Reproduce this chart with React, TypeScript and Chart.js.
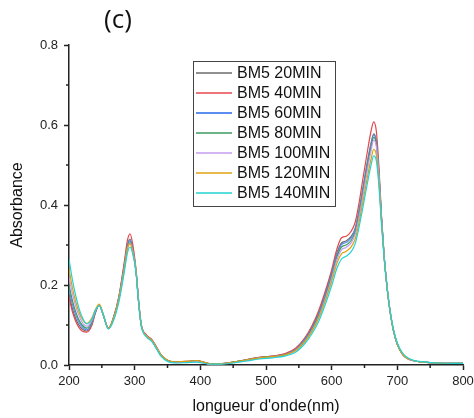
import React, { useEffect, useRef } from 'react';
import { Chart, registerables } from 'chart.js';

Chart.register(...registerables);

const wavelengths = [
  200, 205, 210, 215, 220, 227, 235, 240, 246, 252,
  260, 268, 276, 284, 289, 293, 297, 302, 306, 310,
  318, 326, 334, 340, 350, 365, 380, 395, 403, 415,
  430, 450, 470, 490, 510, 530, 545, 560, 570, 580,
  590, 600, 608, 615, 622, 630, 636, 642, 648, 654,
  660, 664, 668, 672, 676, 680, 684, 688, 694, 700,
  708, 716, 726, 740, 760, 800,
];

const bm5_20min = [
  0.178, 0.142, 0.117, 0.1, 0.09, 0.085, 0.103, 0.13, 0.15, 0.126,
  0.092, 0.12, 0.17, 0.25, 0.3, 0.315, 0.29, 0.235, 0.158, 0.1,
  0.074, 0.063, 0.042, 0.025, 0.012, 0.008, 0.009, 0.011, 0.008, 0.003,
  0.003, 0.007, 0.013, 0.019, 0.022, 0.028, 0.04, 0.068, 0.095, 0.13,
  0.178, 0.232, 0.28, 0.305, 0.31, 0.322, 0.343, 0.39, 0.447, 0.505,
  0.555, 0.578, 0.56, 0.48, 0.365, 0.27, 0.2, 0.145, 0.087, 0.052,
  0.027, 0.016, 0.01, 0.007, 0.005, 0.004,
];

const bm5_40min = [
  0.17, 0.134, 0.11, 0.094, 0.085, 0.082, 0.1, 0.13, 0.15, 0.125,
  0.092, 0.12, 0.172, 0.255, 0.312, 0.328, 0.302, 0.24, 0.162, 0.102,
  0.075, 0.064, 0.043, 0.026, 0.012, 0.008, 0.009, 0.011, 0.008, 0.003,
  0.003, 0.007, 0.013, 0.019, 0.022, 0.029, 0.042, 0.07, 0.098, 0.135,
  0.183, 0.238, 0.29, 0.318, 0.322, 0.335, 0.358, 0.408, 0.47, 0.53,
  0.585, 0.608, 0.585, 0.495, 0.37, 0.272, 0.2, 0.145, 0.086, 0.051,
  0.026, 0.015, 0.01, 0.007, 0.005, 0.004,
];

const bm5_60min = [
  0.19, 0.153, 0.126, 0.107, 0.095, 0.088, 0.105, 0.132, 0.15, 0.126,
  0.091, 0.118, 0.168, 0.245, 0.298, 0.312, 0.29, 0.235, 0.158, 0.1,
  0.073, 0.062, 0.041, 0.025, 0.011, 0.007, 0.008, 0.01, 0.007, 0.003,
  0.003, 0.007, 0.012, 0.018, 0.021, 0.027, 0.039, 0.066, 0.092, 0.127,
  0.174, 0.228, 0.276, 0.301, 0.306, 0.318, 0.34, 0.386, 0.443, 0.5,
  0.551, 0.575, 0.557, 0.478, 0.364, 0.27, 0.2, 0.145, 0.087, 0.052,
  0.027, 0.016, 0.01, 0.007, 0.005, 0.004,
];

const bm5_80min = [
  0.2, 0.163, 0.134, 0.113, 0.1, 0.092, 0.108, 0.133, 0.15, 0.126,
  0.091, 0.117, 0.166, 0.243, 0.295, 0.308, 0.287, 0.235, 0.158, 0.1,
  0.072, 0.061, 0.04, 0.024, 0.011, 0.007, 0.008, 0.01, 0.007, 0.003,
  0.003, 0.007, 0.012, 0.018, 0.021, 0.026, 0.037, 0.063, 0.089, 0.123,
  0.169, 0.222, 0.27, 0.295, 0.3, 0.312, 0.334, 0.38, 0.436, 0.493,
  0.545, 0.569, 0.552, 0.474, 0.362, 0.269, 0.2, 0.145, 0.087, 0.052,
  0.027, 0.016, 0.01, 0.007, 0.005, 0.004,
];

const bm5_100min = [
  0.22, 0.18, 0.148, 0.124, 0.107, 0.097, 0.112, 0.135, 0.149, 0.126,
  0.091, 0.116, 0.165, 0.24, 0.292, 0.305, 0.285, 0.235, 0.158, 0.1,
  0.072, 0.061, 0.04, 0.024, 0.01, 0.006, 0.007, 0.009, 0.006, 0.002,
  0.003, 0.006, 0.011, 0.017, 0.02, 0.025, 0.036, 0.061, 0.086, 0.119,
  0.164, 0.216, 0.263, 0.288, 0.294, 0.306, 0.327, 0.372, 0.427, 0.484,
  0.536, 0.562, 0.546, 0.471, 0.361, 0.27, 0.201, 0.146, 0.088, 0.053,
  0.028, 0.016, 0.01, 0.007, 0.005, 0.004,
];

const bm5_120min = [
  0.24, 0.195, 0.16, 0.133, 0.115, 0.104, 0.118, 0.138, 0.152, 0.128,
  0.092, 0.117, 0.165, 0.238, 0.29, 0.303, 0.283, 0.235, 0.158, 0.1,
  0.073, 0.062, 0.041, 0.025, 0.012, 0.008, 0.009, 0.011, 0.008, 0.003,
  0.003, 0.007, 0.012, 0.018, 0.021, 0.026, 0.036, 0.06, 0.084, 0.116,
  0.159, 0.209, 0.254, 0.278, 0.284, 0.296, 0.316, 0.359, 0.412, 0.466,
  0.515, 0.539, 0.525, 0.456, 0.354, 0.266, 0.199, 0.145, 0.087, 0.052,
  0.027, 0.016, 0.01, 0.007, 0.005, 0.004,
];

const bm5_140min = [
  0.265, 0.215, 0.175, 0.143, 0.12, 0.103, 0.115, 0.136, 0.148, 0.127,
  0.09, 0.112, 0.158, 0.23, 0.28, 0.295, 0.278, 0.232, 0.155, 0.097,
  0.07, 0.059, 0.038, 0.022, 0.009, 0.005, 0.006, 0.007, 0.005, 0.002,
  0.002, 0.005, 0.01, 0.015, 0.018, 0.023, 0.032, 0.055, 0.078, 0.108,
  0.15, 0.198, 0.242, 0.265, 0.272, 0.284, 0.304, 0.347, 0.398, 0.451,
  0.5, 0.523, 0.511, 0.447, 0.35, 0.266, 0.2, 0.147, 0.09, 0.055,
  0.03, 0.018, 0.011, 0.008, 0.005, 0.004,
];

const seriesLabels = ['BM5 20MIN', 'BM5 40MIN', 'BM5 60MIN', 'BM5 80MIN', 'BM5 100MIN', 'BM5 120MIN', 'BM5 140MIN'];
const seriesColors = ['#6b6b6b', '#e4474c', '#5b8ef0', '#3c9a5f', '#c59cf0', '#dfa010', '#22d3d3'];

const xMajorTicks = [200, 300, 400, 500, 600, 700, 800];
const xMinorTicks = [250, 350, 450, 550, 650, 750];
const yMajorTicks = [0, 0.2, 0.4, 0.6, 0.8];
const yMinorTicks = [0.1, 0.3, 0.5, 0.7];

const FONT = '"Liberation Sans", Arial, sans-serif';

export default function App() {
  const ref = useRef<HTMLCanvasElement>(null);

  useEffect(() => {
    if (!ref.current) return;
    const series = [bm5_20min, bm5_40min, bm5_60min, bm5_80min, bm5_100min, bm5_120min, bm5_140min];
    const datasets = series.map((vals, i) => ({
      label: seriesLabels[i],
      data: wavelengths.map((w, j) => ({ x: w, y: vals[j] })),
      borderColor: seriesColors[i],
      backgroundColor: seriesColors[i],
      borderWidth: 1.2,
      pointRadius: 0,
      fill: false,
      cubicInterpolationMode: 'monotone' as const,
      order: series.length - i,
    }));

    const extras = {
      id: 'extras',
      afterDraw(chart: any) {
        const ctx = chart.ctx;
        const xs = chart.scales.x;
        const ys = chart.scales.y;
        ctx.save();
        // minor ticks
        ctx.strokeStyle = '#222';
        ctx.lineWidth = 1.5;
        ctx.beginPath();
        xMinorTicks.forEach((v) => {
          const px = xs.getPixelForValue(v);
          ctx.moveTo(px, ys.bottom);
          ctx.lineTo(px, ys.bottom + 3);
        });
        yMinorTicks.forEach((v) => {
          const py = ys.getPixelForValue(v);
          ctx.moveTo(xs.left, py);
          ctx.lineTo(xs.left - 3, py);
        });
        ctx.stroke();

        // panel label
        ctx.fillStyle = '#111';
        ctx.font = '26px "Open Sans", "Noto Sans", sans-serif';
        ctx.textAlign = 'center';
        ctx.textBaseline = 'middle';
        ctx.fillText('(c)', 118, 21);

        // legend
        const bx = 193.5, by = 61.5, bw = 142, bh = 145;
        ctx.fillStyle = '#fff';
        ctx.fillRect(bx, by, bw, bh);
        ctx.strokeStyle = '#444';
        ctx.lineWidth = 1;
        ctx.strokeRect(bx, by, bw, bh);
        ctx.font = '16px ' + FONT;
        ctx.textAlign = 'left';
        ctx.textBaseline = 'middle';
        chart.data.datasets.forEach((ds: any, i: number) => {
          const cy = 73 + i * 20;
          ctx.strokeStyle = ds.borderColor;
          ctx.lineWidth = i === 2 ? 2 : 1.3;
          ctx.beginPath();
          ctx.moveTo(196, cy);
          ctx.lineTo(232, cy);
          ctx.stroke();
          ctx.fillStyle = '#111';
          ctx.fillText(ds.label, 237, cy + 1);
        });
        ctx.restore();
      },
    };

    const chart = new Chart(ref.current, {
      type: 'line',
      data: { datasets },
      options: {
        animation: false,
        responsive: false,
        devicePixelRatio: 1,
        layout: { padding: { left: 0, top: 45, right: 11, bottom: 0 } },
        plugins: { legend: { display: false }, tooltip: { enabled: false } },
        scales: {
          x: {
            type: 'linear',
            min: 200,
            max: 800,
            afterFit(s: any) {
              s.height = 53;
              s.paddingLeft = 0;
              s.paddingRight = 0;
            },
            afterBuildTicks(s: any) {
              s.ticks = xMajorTicks.map((v) => ({ value: v }));
            },
            ticks: {
              padding: 4,
              color: '#222',
              maxRotation: 0,
              autoSkip: false,
              font: { family: FONT, size: 13 },
              callback: (v: any) => String(v),
            },
            grid: { drawOnChartArea: false, drawTicks: true, tickLength: 5, tickColor: '#222', tickWidth: 1.5 },
            border: { display: true, color: '#222', width: 1.5 },
            title: {
              display: true,
              text: "longueur d'onde(nm)",
              color: '#111',
              font: { family: FONT, size: 16 },
              padding: { top: 0, bottom: 2 },
            },
          },
          y: {
            type: 'linear',
            min: 0,
            max: 0.8,
            afterFit(s: any) {
              s.width = 69;
              s.paddingTop = 0;
              s.paddingBottom = 0;
            },
            afterBuildTicks(s: any) {
              s.ticks = yMajorTicks.map((v) => ({ value: v }));
            },
            ticks: {
              padding: 6,
              color: '#222',
              font: { family: FONT, size: 13 },
              callback: (v: any) => Number(v).toFixed(1),
            },
            grid: { drawOnChartArea: false, drawTicks: true, tickLength: 5, tickColor: '#222', tickWidth: 1.5 },
            border: { display: true, color: '#222', width: 1.5 },
            title: {
              display: true,
              text: 'Absorbance',
              color: '#111',
              font: { family: FONT, size: 16 },
              padding: { top: 8, bottom: 0 },
            },
          },
        },
      } as any,
      plugins: [extras],
    });
    return () => chart.destroy();
  }, []);

  return (
    <div style={{ position: 'absolute', left: 0, top: 0, width: 474, height: 418, background: '#fff' }}>
      <canvas ref={ref} width={474} height={418} style={{ display: 'block' }} />
    </div>
  );
}
